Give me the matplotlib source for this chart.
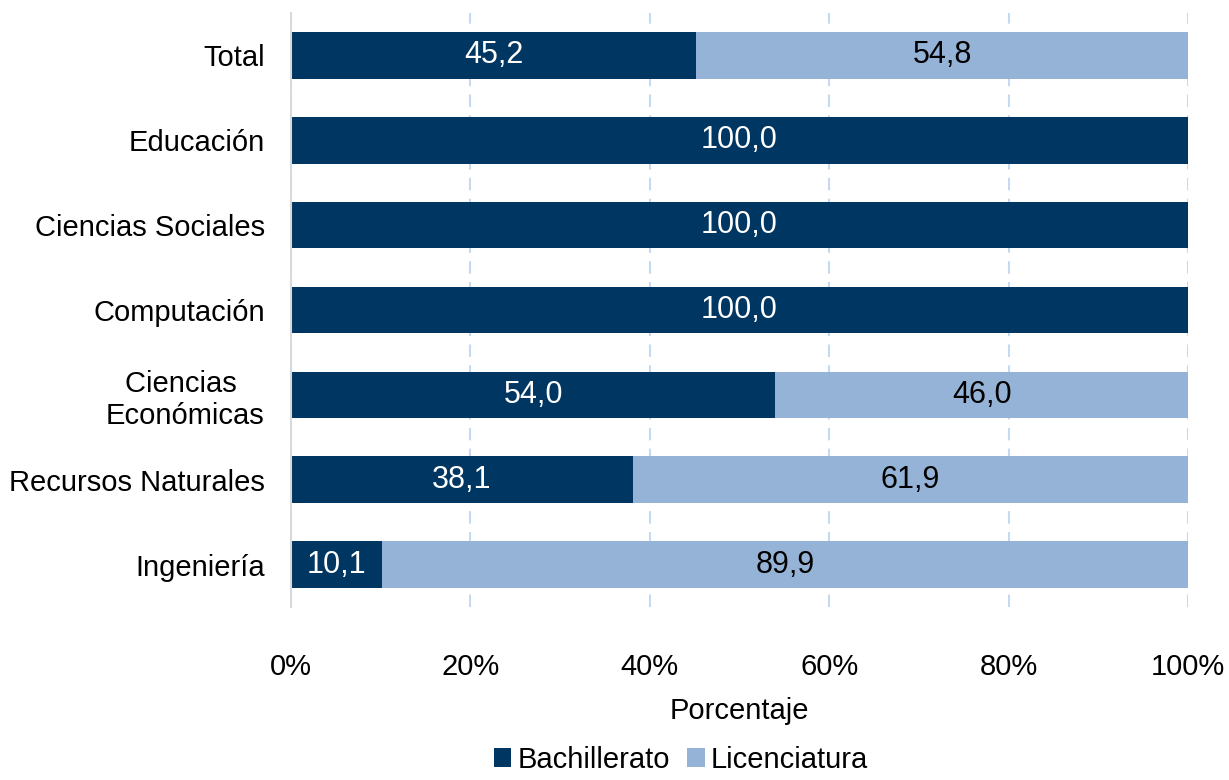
import matplotlib.pyplot as plt
import numpy as np

plt.rcParams['font.family'] = ['Liberation Sans', 'DejaVu Sans']

# datos (de arriba hacia abajo)
categorias = ['Total', 'Educación', 'Ciencias Sociales', 'Computación',
              'Ciencias \nEconómicas', 'Recursos Naturales', 'Ingeniería']
bachillerato = [45.2, 100.0, 100.0, 100.0, 54.0, 38.1, 10.1]
licenciatura = [54.8, 0.0, 0.0, 0.0, 46.0, 61.9, 89.9]
x_ticks = [0, 20, 40, 60, 80, 100]

c_bach = '#003662'
c_lic = '#95B3D7'

fig = plt.figure(figsize=(12.29, 7.8), dpi=100)
ax = fig.add_axes([0.2368, 0.2218, 0.7299, 0.7615])

y = np.arange(len(categorias))
b1 = ax.barh(y, bachillerato, height=0.55, color=c_bach, label='Bachillerato', zorder=3)
b2 = ax.barh(y, licenciatura, left=bachillerato, height=0.55, color=c_lic,
             label='Licenciatura', zorder=3)

for rect, v in zip(b1, bachillerato):
    if v > 0:
        ax.text(rect.get_x() + rect.get_width() / 2, rect.get_y() + rect.get_height() / 2,
                f'{v:.1f}'.replace('.', ','), ha='center', va='center',
                color='white', fontsize=22, zorder=4)
for rect, v in zip(b2, licenciatura):
    if v > 0:
        ax.text(rect.get_x() + rect.get_width() / 2, rect.get_y() + rect.get_height() / 2,
                f'{v:.1f}'.replace('.', ','), ha='center', va='center',
                color='black', fontsize=22, zorder=4)

ax.set_ylim(len(categorias) - 0.5, -0.5)
ax.set_xlim(0, 100)
ax.set_yticks(y)
ax.set_yticklabels(categorias, fontsize=21, multialignment='center')
ax.set_xticks(x_ticks)
ax.set_xticklabels([f'{t}%' for t in x_ticks], fontsize=21)
ax.tick_params(axis='y', length=0, pad=19)
ax.tick_params(axis='x', length=0, pad=33)

for s in ['top', 'right', 'bottom']:
    ax.spines[s].set_visible(False)
ax.spines['left'].set_color('#D9D9D9')
ax.spines['left'].set_linewidth(1.5)
ax.spines['left'].set_zorder(5)

ax.xaxis.grid(True, color='#C5D9F1', linestyle=(0, (6, 4)), linewidth=1.5, zorder=0)
ax.set_axisbelow(True)

ax.set_xlabel('Porcentaje', fontsize=21, labelpad=12)

fig.legend(handles=[b1, b2], loc='lower center', bbox_to_anchor=(0.554, -0.026),
           ncol=2, frameon=False, fontsize=21, handlelength=0.6, handleheight=0.6,
           handletextpad=0.2, columnspacing=0.6)

fig.savefig('out.png', dpi=100)
